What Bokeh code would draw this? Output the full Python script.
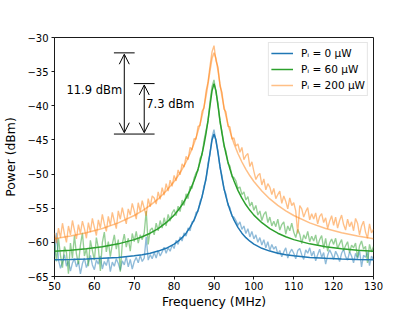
import numpy as np
from bokeh.plotting import figure
from bokeh.models import (Range1d, FixedTicker, CustomJSTickFormatter, Label, Arrow,
                          OpenHead, Legend, LegendItem)
from bokeh.embed import file_html
from bokeh.resources import INLINE

# ---------------- data ----------------
# measured traces, sampled every 0.5 MHz from 50 to 130 MHz
blue_data = [
    -62.1, -58.6, -62.6, -63.8, -62.9, -61.8, -63.5, -62.7, -64.2, -63.0,
    -62.4, -63.6, -62.8, -64.6, -63.1, -62.3, -63.7, -62.9, -61.9, -63.3,
    -64.0, -62.6, -63.2, -62.0, -63.9, -62.8, -63.4, -62.2, -64.3, -62.9,
    -63.5, -62.4, -63.1, -64.1, -62.7, -63.3, -62.1, -63.6, -62.5, -63.9,
    -62.8, -62.2, -63.0, -61.9, -62.8, -62.3, -59.2, -62.6, -61.8, -62.4,
    -61.5, -62.3, -61.2, -62.0, -61.4, -60.7, -61.6, -60.8, -61.3, -60.4,
    -60.9, -59.7, -60.3, -59.2, -59.8, -58.6, -59.1, -57.9, -58.3, -57.0,
    -56.9, -55.6, -55.5, -54.0, -53.4, -51.7, -50.9, -48.4, -47.1, -44.6,
    -43.5, -45.3, -46.6, -49.1, -50.2, -52.3, -52.9, -54.6, -54.9, -56.2,
    -56.3, -56.8, -57.5, -57.0, -58.1, -57.6, -58.7, -58.0, -59.2, -58.4,
    -59.5, -58.9, -60.0, -59.3, -60.4, -59.6, -60.8, -59.9, -61.2, -60.3,
    -61.0, -60.6, -61.7, -61.2, -62.1, -61.4, -60.8, -62.3, -61.5, -61.0,
    -61.6, -62.4, -61.2, -60.9, -61.8, -62.5, -61.1, -61.6, -60.8, -62.0,
    -61.3, -62.7, -61.8, -61.0, -62.2, -61.5, -63.2, -61.9, -61.1, -61.7,
    -62.5, -61.3, -61.9, -62.8, -61.6, -61.0, -62.1, -62.6, -61.4, -62.0,
    -63.0, -61.6, -62.4, -61.2, -63.6, -61.9, -62.2, -61.4, -63.4, -62.0,
    -62.6,
]
green_data = [
    -60.2, -62.8, -59.4, -61.9, -63.7, -60.6, -61.5, -64.6, -60.1, -62.3,
    -59.0, -61.7, -63.2, -60.4, -58.6, -62.0, -60.9, -63.5, -59.7, -61.2,
    -62.6, -59.3, -60.8, -64.2, -60.0, -58.5, -61.4, -59.9, -62.1, -60.3,
    -58.9, -61.0, -59.6, -64.3, -60.2, -58.8, -60.7, -59.4, -61.3, -58.7,
    -59.9, -58.4, -60.1, -58.9, -59.6, -58.6, -55.4, -60.3, -58.2, -57.9,
    -58.9, -57.2, -58.3, -56.8, -57.9, -56.4, -57.6, -55.9, -56.9, -55.7,
    -55.2, -56.1, -54.7, -55.5, -53.8, -54.6, -52.9, -53.6, -51.8, -52.1,
    -50.6, -49.8, -49.5, -47.7, -47.2, -45.1, -43.6, -42.3, -39.4, -37.2,
    -36.2, -38.1, -39.6, -42.5, -43.7, -46.0, -46.6, -48.5, -48.8, -50.4,
    -50.5, -51.0, -52.1, -51.9, -53.0, -52.6, -53.8, -53.3, -54.7, -54.1,
    -55.3, -54.6, -56.0, -55.4, -56.8, -55.9, -55.5, -57.1, -56.3, -57.6,
    -56.9, -57.7, -56.6, -58.2, -57.4, -57.0, -58.8, -57.6, -58.3, -57.2,
    -58.5, -59.3, -58.1, -58.8, -60.2, -58.9, -59.5, -58.4, -59.9, -59.1,
    -59.8, -58.9, -60.5, -59.6, -59.0, -60.9, -59.4, -61.3, -60.1, -59.5,
    -60.3, -59.4, -60.9, -60.2, -59.6, -61.2, -60.5, -59.9, -61.5, -60.4,
    -60.8, -60.1, -62.2, -60.5, -59.8, -61.0, -60.6, -63.0, -60.3, -61.4,
    -60.6,
]
orange_data = [
    -58.6, -60.1, -57.9, -59.3, -57.2, -58.8, -60.0, -57.6, -58.9, -56.8,
    -58.2, -59.5, -57.4, -58.7, -56.9, -58.0, -59.4, -57.1, -58.5, -56.5,
    -57.8, -59.0, -56.7, -57.9, -55.9, -57.3, -58.4, -56.2, -57.5, -55.6,
    -56.9, -58.0, -55.4, -56.6, -54.9, -56.2, -57.3, -55.1, -56.0, -54.3,
    -55.4, -56.6, -54.2, -55.5, -53.9, -55.0, -56.1, -53.6, -54.8, -53.2,
    -53.5, -54.4, -52.6, -53.7, -52.0, -53.1, -51.4, -52.5, -50.9, -51.8,
    -50.2, -51.0, -49.4, -50.1, -48.5, -49.0, -47.4, -47.9, -46.1, -46.5,
    -44.8, -44.9, -43.0, -42.9, -40.8, -40.3, -37.9, -36.5, -34.2, -32.1,
    -31.2, -33.4, -34.3, -37.1, -38.0, -40.5, -40.9, -43.0, -43.1, -44.9,
    -44.7, -45.9, -45.6, -46.8, -46.1, -47.9, -47.3, -47.0, -48.9, -48.2,
    -49.6, -50.8, -50.2, -49.9, -51.6, -50.7, -52.3, -51.4, -51.9, -53.0,
    -52.1, -53.6, -53.0, -52.5, -54.3, -53.2, -54.0, -55.1, -53.5, -54.6,
    -54.2, -55.4, -58.7, -54.6, -55.1, -56.3, -55.5, -54.9, -56.7, -55.8,
    -56.6, -55.7, -57.3, -56.2, -55.8, -57.1, -56.4, -58.0, -56.9, -56.1,
    -57.5, -56.3, -57.9, -56.8, -56.0, -57.4, -58.2, -56.6, -57.7, -57.0,
    -58.3, -56.5, -57.2, -58.9, -57.6, -56.9, -58.5, -59.4, -57.3, -58.6,
    -58.1,
]
data_freq = np.arange(50.0, 130.25, 0.5)
assert len(data_freq) == len(blue_data) == len(green_data) == len(orange_data)

# fitted curves
fit_freq = [50, 54, 58, 62, 66, 70, 72, 74, 76, 78, 80, 81, 82, 83, 84, 85, 85.5, 86,
            86.5, 87, 87.5, 88, 88.5, 89, 89.5, 90, 90.5, 91, 91.5, 92, 92.5, 93, 93.5,
            94, 94.5, 95, 96, 97, 98, 99, 100, 102, 104, 106, 108, 110, 114, 118, 122,
            126, 130]
blue_fit = [-62.55, -62.50, -62.43, -62.34, -62.20, -61.97, -61.81, -61.59, -61.28, -60.87,
            -60.25, -59.83, -59.31, -58.65, -57.80, -56.71, -56.03, -55.26, -54.36, -53.30,
            -52.06, -50.58, -48.85, -46.89, -45.02, -44.14,
            -45.02, -46.89, -48.85, -50.58, -52.06, -53.30, -54.36, -55.26, -56.03, -56.71,
            -57.80, -58.65, -59.31, -59.83, -60.25, -60.87, -61.28, -61.59, -61.81, -61.97,
            -62.20, -62.34, -62.43, -62.50, -62.55]
green_fit = [-61.31, -61.15, -60.94, -60.64, -60.22, -59.60, -59.18, -58.66, -57.99, -57.12,
             -56.01, -55.31, -54.50, -53.53, -52.39, -50.99, -50.17, -49.26, -48.22, -47.03,
             -45.65, -44.04, -42.15, -39.98, -37.81, -36.75,
             -37.81, -39.98, -42.15, -44.04, -45.65, -47.03, -48.22, -49.26, -50.17, -50.99,
             -52.39, -53.53, -54.50, -55.31, -56.01, -57.12, -57.99, -58.66, -59.18, -59.60,
             -60.22, -60.64, -60.94, -61.15, -61.31]
orange_fit = [-59.47, -59.08, -58.59, -57.97, -57.15, -56.07, -55.39, -54.59, -53.64, -52.49,
              -51.08, -50.25, -49.31, -48.23, -46.98, -45.51, -44.66, -43.71, -42.66, -41.48,
              -40.12, -38.57, -36.80, -34.86, -33.06, -32.25,
              -33.06, -34.86, -36.80, -38.57, -40.12, -41.48, -42.66, -43.71, -44.66, -45.51,
              -46.98, -48.23, -49.31, -50.25, -51.08, -52.49, -53.64, -54.59, -55.39, -56.07,
              -57.15, -57.97, -58.59, -59.08, -59.47]

series_labels = ["Pᵢ = 0 μW", "Pᵢ = 60 μW", "Pᵢ = 200 μW"]
x_ticks = [50, 60, 70, 80, 90, 100, 110, 120, 130]
y_ticks = [-65, -60, -55, -50, -45, -40, -35, -30]

# annotation: arrows between peak levels
arrow_x = [67.5, 72.5]
arrow_texts = ["11.9 dBm", "7.3 dBm"]

# ---------------- figure ----------------
FONT = "DejaVu Sans"
C_BLUE, C_GREEN, C_ORANGE = "#1f77b4", "#2ca02c", "#ff7f0e"

p = figure(width=415, height=311, output_backend="svg", toolbar_location=None,
           x_range=Range1d(50, 130), y_range=Range1d(-65, -30),
           min_border_left=52, min_border_right=42, min_border_top=37, min_border_bottom=34)
p.background_fill_color = "white"
p.border_fill_color = "white"
p.grid.visible = False
p.outline_line_color = "black"
p.outline_line_width = 0.9

for ax in (p.xaxis[0], p.yaxis[0]):
    ax.axis_line_color = None
    ax.major_tick_out = 3
    ax.major_tick_in = 0
    ax.minor_tick_line_color = None
    ax.major_tick_line_color = "black"
    ax.major_tick_line_width = 0.9
    ax.major_label_text_font = FONT
    ax.major_label_text_font_size = "10px"
    ax.major_label_text_color = "black"
    ax.major_label_standoff = 3
    ax.axis_label_text_font = FONT
    ax.axis_label_text_font_size = "12.4px"
    ax.axis_label_text_font_style = "normal"
    ax.axis_label_text_color = "black"

p.xaxis.ticker = FixedTicker(ticks=x_ticks)
p.yaxis.ticker = FixedTicker(ticks=y_ticks)
p.yaxis.formatter = CustomJSTickFormatter(
    code="return tick < 0 ? '\\u2212' + Math.abs(tick) : String(tick);")

p.yaxis.axis_label = "Power (dBm)"
p.yaxis.axis_label_standoff = 6
p.xaxis.axis_label = "Frequency (MHz)"
p.xaxis.axis_label_standoff = 1
p.xaxis.major_label_standoff = 2

# measured traces
p.line(data_freq, blue_data, line_color=C_BLUE, line_alpha=0.5, line_width=1.35)
p.line(data_freq, green_data, line_color=C_GREEN, line_alpha=0.5, line_width=1.35)
p.line(data_freq, orange_data, line_color=C_ORANGE, line_alpha=0.5, line_width=1.35)

# fits
rb = p.line(fit_freq, blue_fit, line_color=C_BLUE, line_width=1.5)
rg = p.line(fit_freq, green_fit, line_color=C_GREEN, line_width=1.5)
ro = p.line(fit_freq, orange_fit, line_color=C_ORANGE, line_alpha=0.5, line_width=1.5)

# annotation bars at peak levels
peak_b, peak_g, peak_o = max(blue_fit), max(green_fit), max(orange_fit)
half = 2.6
p.segment(x0=[arrow_x[0] - half, arrow_x[1] - half, arrow_x[0] - half],
          x1=[arrow_x[0] + half, arrow_x[1] + half, arrow_x[1] + half],
          y0=[peak_o, peak_g, peak_b], y1=[peak_o, peak_g, peak_b],
          line_color="black", line_width=1)
for xa, ytop in zip(arrow_x, [peak_o, peak_g]):
    p.add_layout(Arrow(x_start=xa, y_start=peak_b + 0.2, x_end=xa, y_end=ytop - 0.2,
                       line_color="black", line_width=1,
                       start=OpenHead(size=10, line_width=1, line_color="black"),
                       end=OpenHead(size=10, line_width=1, line_color="black")))

p.add_layout(Label(x=arrow_x[0] - 0.55, y=-37.65, text=arrow_texts[0], text_align="right",
                   text_baseline="middle", text_font=FONT, text_font_size="11.5px",
                   text_color="black"))
p.add_layout(Label(x=arrow_x[1] + 0.5, y=-39.75, text=arrow_texts[1], text_align="left",
                   text_baseline="middle", text_font=FONT, text_font_size="11.5px",
                   text_color="black"))

legend = Legend(items=[LegendItem(label=series_labels[0], renderers=[rb]),
                       LegendItem(label=series_labels[1], renderers=[rg]),
                       LegendItem(label=series_labels[2], renderers=[ro])],
                location="top_right", margin=5, padding=2, spacing=-2,
                glyph_width=22, glyph_height=16, label_height=16, label_standoff=8,
                label_text_font=FONT, label_text_font_size="10.5px",
                label_text_color="black", border_line_color="#cccccc",
                border_line_width=1, background_fill_alpha=0.8)
p.add_layout(legend)

open("out.html", "w", encoding="utf-8").write(file_html(p, INLINE))
